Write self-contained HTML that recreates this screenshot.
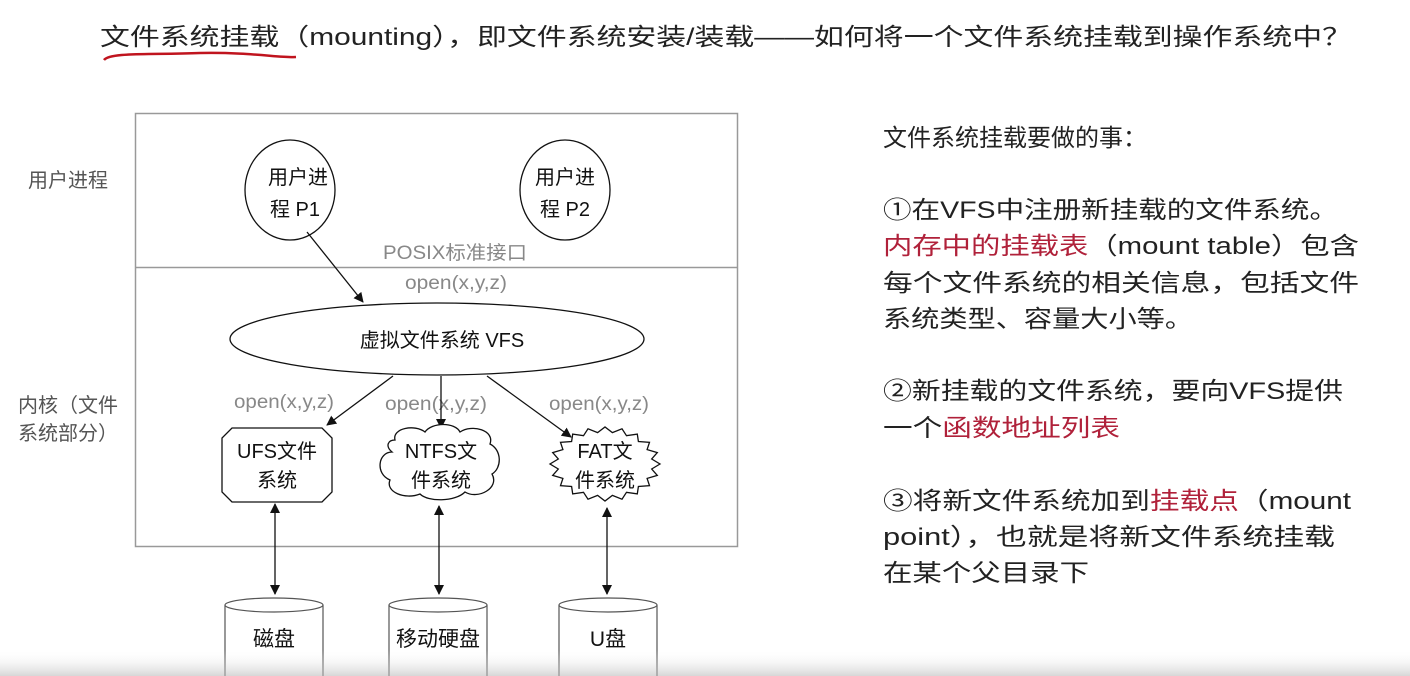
<!DOCTYPE html>
<html><head><meta charset="utf-8"><style>
html,body{margin:0;padding:0;background:#fff;}
svg{display:block;}
.cj{font-family:"Liberation Sans","Noto Sans CJK SC",sans-serif;}
</style></head><body>
<svg width="1410" height="676" viewBox="0 0 1410 676" xmlns="http://www.w3.org/2000/svg" class="cj">
<defs>
<marker id="ah" markerWidth="10" markerHeight="10" refX="9" refY="5" orient="auto" markerUnits="userSpaceOnUse"><path d="M0,0 L10,5 L0,10 z" fill="#111"/></marker>
<marker id="as" markerWidth="10" markerHeight="10" refX="1" refY="5" orient="auto" markerUnits="userSpaceOnUse"><path d="M10,0 L0,5 L10,10 z" fill="#111"/></marker>
<linearGradient id="bg" x1="0" y1="0" x2="0" y2="1"><stop offset="0" stop-color="#fff" stop-opacity="0"/><stop offset="1" stop-color="#bbb" stop-opacity="0.6"/></linearGradient>
</defs>
<text x="100" y="45" font-size="24" fill="#222" textLength="1252" lengthAdjust="spacingAndGlyphs">文件系统挂载（mounting），即文件系统安装/装载——如何将一个文件系统挂载到操作系统中？</text>
<path d="M104,60 C110,52 150,55 200,53 C250,52 280,58 296,57" stroke="#c0141e" stroke-width="2.5" fill="none"/>
<rect x="135.5" y="113.5" width="602" height="433" fill="none" stroke="#999" stroke-width="1.5"/>
<line x1="135" y1="267.5" x2="737" y2="267.5" stroke="#999" stroke-width="1.5"/>
<g font-size="20" fill="#555">
<text x="28" y="187">用户进程</text>
<text x="18" y="412">内核（文件</text>
<text x="18" y="440">系统部分）</text>
</g>
<ellipse cx="290" cy="190" rx="45" ry="50" fill="#fff" stroke="#111" stroke-width="1.3"/>
<ellipse cx="565" cy="190" rx="45" ry="50" fill="#fff" stroke="#111" stroke-width="1.3"/>
<g font-size="20" fill="#111" text-anchor="middle">
<text x="298" y="184">用户进</text><text x="295" y="216">程 P1</text>
<text x="565" y="184">用户进</text><text x="565" y="216">程 P2</text>
</g>
<line x1="307" y1="232" x2="363" y2="302" stroke="#111" stroke-width="1.3" marker-end="url(#ah)"/>
<g font-size="19" fill="#888">
<text x="383" y="259" textLength="144" lengthAdjust="spacingAndGlyphs">POSIX标准接口</text>
<text x="405" y="289" textLength="102" lengthAdjust="spacingAndGlyphs">open(x,y,z)</text>
<text x="234" y="408" textLength="100" lengthAdjust="spacingAndGlyphs">open(x,y,z)</text>
<text x="385" y="410" textLength="102" lengthAdjust="spacingAndGlyphs">open(x,y,z)</text>
<text x="549" y="410" textLength="100" lengthAdjust="spacingAndGlyphs">open(x,y,z)</text>
</g>
<ellipse cx="437" cy="339" rx="207" ry="36" fill="#fff" stroke="#111" stroke-width="1.3"/>
<text x="442" y="347" font-size="20" fill="#111" text-anchor="middle">虚拟文件系统 VFS</text>
<line x1="393" y1="376" x2="327" y2="425" stroke="#111" stroke-width="1.3" marker-end="url(#ah)"/>
<line x1="441" y1="376" x2="441" y2="428" stroke="#111" stroke-width="1.3" marker-end="url(#ah)"/>
<line x1="487" y1="376" x2="571" y2="437" stroke="#111" stroke-width="1.3" marker-end="url(#ah)"/>
<polygon points="232,428 322,428 332,438 332,492 322,502 232,502 222,492 222,438" fill="#fff" stroke="#111" stroke-width="1.3"/>
<path d="M395,440 C392,428 415,424 425,432 C432,422 455,422 460,432 C472,424 495,430 490,444 C502,450 502,468 492,474 C500,488 478,500 465,492 C455,502 428,502 420,494 C405,500 385,492 390,480 C375,474 378,452 392,452 C385,446 388,440 395,440 Z" fill="#fff" stroke="#111" stroke-width="1.3"/>
<polygon fill="#fff" stroke="#111" stroke-width="1.3" points="660,464 651.7,469 657.3,475.4 647.1,478.4 649.5,485.7 638.4,486.5 637.3,493.9 626.5,492.3 622,499.2 612.4,495.4 605,501 597.6,495.4 588,499.2 583.5,492.3 572.7,493.9 571.6,486.5 560.5,485.7 562.9,478.4 552.7,475.4 558.3,469 550,464 558.3,459 552.7,452.6 562.9,449.6 560.5,442.3 571.6,441.5 572.7,434.1 583.5,435.7 588,428.8 597.6,432.6 605,427 612.4,432.6 622,428.8 626.5,435.7 637.3,434.1 638.4,441.5 649.5,442.3 647.1,449.6 657.3,452.6 651.7,459"/>
<g font-size="20" fill="#111" text-anchor="middle">
<text x="277" y="458">UFS文件</text><text x="277" y="487">系统</text>
<text x="441" y="458">NTFS文</text><text x="441" y="487">件系统</text>
<text x="605" y="458">FAT文</text><text x="605" y="487">件系统</text>
</g>
<line x1="275" y1="504" x2="275" y2="594" stroke="#111" stroke-width="1.3" marker-start="url(#as)" marker-end="url(#ah)"/>
<line x1="439" y1="506" x2="439" y2="594" stroke="#111" stroke-width="1.3" marker-start="url(#as)" marker-end="url(#ah)"/>
<line x1="607" y1="508" x2="607" y2="594" stroke="#111" stroke-width="1.3" marker-start="url(#as)" marker-end="url(#ah)"/>
<g fill="#fff" stroke="#555" stroke-width="1.2">
<path d="M225,605 L225,676 M323,605 L323,676"/><ellipse cx="274" cy="605" rx="49" ry="7"/>
<path d="M389,605 L389,676 M487,605 L487,676"/><ellipse cx="438" cy="605" rx="49" ry="7"/>
<path d="M559,605 L559,676 M657,605 L657,676"/><ellipse cx="608" cy="605" rx="49" ry="7"/>
</g>
<g font-size="21" fill="#111" text-anchor="middle">
<text x="274" y="646">磁盘</text><text x="438" y="646">移动硬盘</text><text x="608" y="646">U盘</text>
</g>
<rect x="0" y="650" width="1410" height="26" fill="url(#bg)"/>
<g font-size="24" fill="#222">
<text x="883" y="146">文件系统挂载要做的事：</text>
<text x="883" y="218" textLength="455" lengthAdjust="spacingAndGlyphs">①在VFS中注册新挂载的文件系统。</text>
<text x="883" y="254" textLength="476" lengthAdjust="spacingAndGlyphs"><tspan fill="#b0213a">内存中的挂载表</tspan>（mount table）包含</text>
<text x="883" y="291" textLength="476" lengthAdjust="spacingAndGlyphs">每个文件系统的相关信息，包括文件</text>
<text x="883" y="327" textLength="310" lengthAdjust="spacingAndGlyphs">系统类型、容量大小等。</text>
<text x="883" y="399" textLength="460" lengthAdjust="spacingAndGlyphs">②新挂载的文件系统，要向VFS提供</text>
<text x="883" y="436" textLength="237" lengthAdjust="spacingAndGlyphs">一个<tspan fill="#b0213a">函数地址列表</tspan></text>
<text x="883" y="509" textLength="468" lengthAdjust="spacingAndGlyphs">③将新文件系统加到<tspan fill="#b0213a">挂载点</tspan>（mount</text>
<text x="883" y="545" textLength="452" lengthAdjust="spacingAndGlyphs">point），也就是将新文件系统挂载</text>
<text x="883" y="581" textLength="206" lengthAdjust="spacingAndGlyphs">在某个父目录下</text>
</g>
</svg>
</body></html>
